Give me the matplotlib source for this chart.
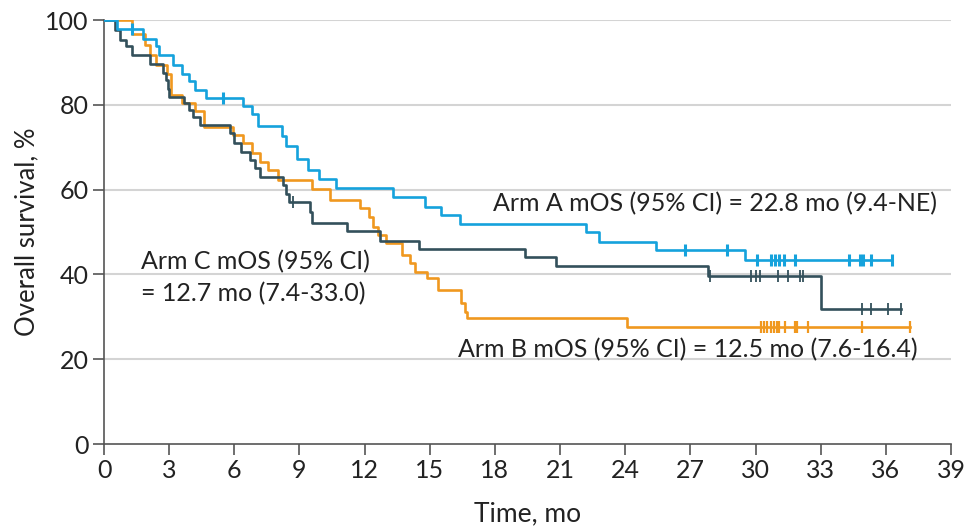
import numpy as np
import matplotlib
matplotlib.use("Agg")
import matplotlib.pyplot as plt

# Kaplan-Meier steps (time in months, survival in %)
arm_a_t = [0, 0.6, 1.8, 2.4, 2.55, 3.2, 3.6, 3.9, 4.2, 4.7, 6.4, 6.8, 7.1, 8.2, 8.4, 8.9,
           9.4, 9.9, 10.7, 13.3, 14.8, 15.5, 16.4, 22.2, 22.8, 25.4, 29.5, 36.3]
arm_a_s = [100, 97.8, 95.6, 93.9, 91.7, 89.3, 87.2, 85.5, 83.6, 81.5, 79.7, 77.8, 75.0, 72.7,
           70.3, 67.3, 64.6, 62.5, 60.3, 58.2, 56.0, 53.9, 51.9, 50.0, 47.7, 45.7, 43.4, 43.4]
arm_a_cens = [1.3, 5.5, 26.75, 28.7, 30.05, 30.7, 30.9, 31.1, 31.3, 31.8, 34.3, 34.8, 34.95,
              35.3, 36.3]

arm_b_t = [0, 1.3, 1.9, 2.1, 2.4, 2.9, 3.1, 3.6, 4.2, 4.6, 5.95, 6.4, 6.8, 7.2, 7.56, 8.0,
           9.6, 10.4, 11.8, 12.2, 12.4, 12.6, 13.0, 13.7, 14.1, 14.3, 14.85, 15.4, 16.45,
           16.6, 16.7, 24.1, 37.1]
arm_b_s = [100, 96.6, 94.2, 91.8, 89.5, 87.2, 82.3, 80.5, 78.5, 74.8, 72.9, 70.9, 68.6, 66.6,
           64.6, 62.3, 60.1, 57.5, 55.6, 53.6, 51.2, 49.3, 47.3, 44.6, 42.6, 40.6, 39.1, 36.3,
           33.2, 31.2, 29.6, 27.7, 27.7]
arm_b_cens = [30.25, 30.4, 30.55, 30.7, 30.85, 31.0, 31.1, 31.35, 31.8, 31.9, 32.4, 34.9, 37.1]

arm_c_t = [0, 0.5, 0.75, 1.0, 1.27, 2.1, 2.7, 2.85, 2.96, 3.0, 3.7, 3.9, 4.1, 4.4, 5.8, 6.0,
           6.3, 6.7, 6.95, 7.2, 8.25, 8.4, 8.5, 9.5, 9.6, 11.2, 12.7, 14.5, 19.4, 20.8, 27.8,
           33.0, 36.7]
arm_c_s = [100, 97.6, 95.3, 93.8, 91.7, 89.7, 87.6, 85.8, 83.8, 81.9, 80.4, 78.8, 77.2, 75.3,
           73.3, 70.9, 68.9, 67.0, 65.0, 63.0, 61.0, 59.0, 57.1, 54.6, 52.2, 50.2, 47.9, 46.1,
           44.0, 41.9, 39.6, 31.8, 31.8]
arm_c_cens = [8.7, 27.9, 29.8, 30.0, 30.2, 31.05, 31.5, 32.05, 32.2, 34.9, 35.3, 36.1, 36.7]

x_ticks = list(range(0, 40, 3))
y_ticks = [0, 20, 40, 60, 80, 100]

c_a = "#15a2dc"
c_b = "#f0981f"
c_c = "#33505b"

font = ["Lato", "DejaVu Sans"]


def surv_at(ts, ss, t):
    i = np.searchsorted(ts, t, side="right") - 1
    return np.asarray(ss)[i]


fig = plt.figure(figsize=(9.69, 5.30), dpi=100)
ax = fig.add_axes([104 / 969, 1 - 444 / 530, 847 / 969, 424 / 530])

for y in y_ticks[1:]:
    ax.axhline(y, color="#d4d4d4", lw=1.5, zorder=0)

for ts, ss, cens, col, mew in [(arm_b_t, arm_b_s, arm_b_cens, c_b, 1.6),
                               (arm_c_t, arm_c_s, arm_c_cens, c_c, 1.3),
                               (arm_a_t, arm_a_s, arm_a_cens, c_a, 2.2)]:
    ax.step(ts, ss, where="post", color=col, lw=1.9, zorder=3)
    ax.plot(cens, [surv_at(ts, ss, t) for t in cens], ls="none", marker="|",
            ms=9, mew=mew, color=col, zorder=4)

ax.set_xlim(0, 39)
ax.set_ylim(0, 100)
ax.set_xticks(x_ticks)
ax.set_yticks(y_ticks)
for s in ["top", "right"]:
    ax.spines[s].set_visible(False)
for s in ["left", "bottom"]:
    ax.spines[s].set_color("#555555")
    ax.spines[s].set_linewidth(1.2)
ax.tick_params(colors="#555555", width=1.2, length=8, labelcolor="#222222", pad=3)
for lab in ax.get_xticklabels() + ax.get_yticklabels():
    lab.set_family(font)
    lab.set_fontsize(18)

ax.set_xlabel("Time, mo", family=font, fontsize=19, color="#222222", labelpad=14)
ax.set_ylabel("Overall survival, %", family=font, fontsize=18.5, color="#222222", labelpad=4)

txt = dict(family=font, fontsize=18, color="#222222", va="center")
ax.text(17.9, 56.6, "Arm A mOS (95% CI) = 22.8 mo (9.4-NE)", **txt)
ax.text(1.7, 42.9, "Arm C mOS (95% CI)", **txt)
ax.text(1.7, 35.4, "= 12.7 mo (7.4-33.0)", **txt)
ax.text(16.3, 22.2, "Arm B mOS (95% CI) = 12.5 mo (7.6-16.4)", **txt)

fig.savefig("out.png", dpi=100)
